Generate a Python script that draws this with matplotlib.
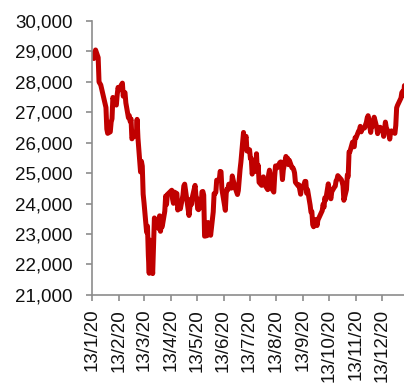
import numpy as np
import pandas as pd
import matplotlib
matplotlib.use("Agg")
import matplotlib.pyplot as plt
import matplotlib.dates as mdates
from matplotlib.ticker import FuncFormatter

plt.rcParams['font.family'] = ['Liberation Sans', 'DejaVu Sans']

# values (approximate daily closes)
dates = ["2020-01-13", "2020-01-14", "2020-01-15", "2020-01-16", "2020-01-17", "2020-01-20",
         "2020-01-21", "2020-01-22", "2020-01-23", "2020-01-29", "2020-01-30", "2020-01-31",
         "2020-02-03", "2020-02-04", "2020-02-05", "2020-02-06", "2020-02-07", "2020-02-10",
         "2020-02-11", "2020-02-12", "2020-02-13", "2020-02-14", "2020-02-17", "2020-02-18",
         "2020-02-19", "2020-02-20", "2020-02-21", "2020-02-24", "2020-02-25", "2020-02-26",
         "2020-02-27", "2020-02-28", "2020-03-02", "2020-03-03", "2020-03-04", "2020-03-05",
         "2020-03-06", "2020-03-09", "2020-03-10", "2020-03-11", "2020-03-12", "2020-03-13",
         "2020-03-16", "2020-03-17", "2020-03-18", "2020-03-19", "2020-03-20", "2020-03-23",
         "2020-03-24", "2020-03-25", "2020-03-26", "2020-03-27", "2020-03-30", "2020-03-31",
         "2020-04-01", "2020-04-02", "2020-04-03", "2020-04-06", "2020-04-07", "2020-04-08",
         "2020-04-09", "2020-04-14", "2020-04-15", "2020-04-16", "2020-04-17", "2020-04-20",
         "2020-04-21", "2020-04-22", "2020-04-23", "2020-04-24", "2020-04-27", "2020-04-28",
         "2020-04-29", "2020-05-04", "2020-05-05", "2020-05-06", "2020-05-07", "2020-05-08",
         "2020-05-11", "2020-05-12", "2020-05-13", "2020-05-14", "2020-05-15", "2020-05-18",
         "2020-05-19", "2020-05-20", "2020-05-21", "2020-05-22", "2020-05-25", "2020-05-26",
         "2020-05-27", "2020-05-28", "2020-05-29", "2020-06-01", "2020-06-02", "2020-06-03",
         "2020-06-04", "2020-06-05", "2020-06-08", "2020-06-09", "2020-06-10", "2020-06-11",
         "2020-06-12", "2020-06-15", "2020-06-16", "2020-06-17", "2020-06-18", "2020-06-19",
         "2020-06-22", "2020-06-23", "2020-06-24", "2020-06-26", "2020-06-29", "2020-06-30",
         "2020-07-02", "2020-07-03", "2020-07-06", "2020-07-07", "2020-07-08", "2020-07-09",
         "2020-07-10", "2020-07-13", "2020-07-14", "2020-07-15", "2020-07-16", "2020-07-17",
         "2020-07-20", "2020-07-21", "2020-07-22", "2020-07-23", "2020-07-24", "2020-07-27",
         "2020-07-28", "2020-07-29", "2020-07-30", "2020-07-31", "2020-08-03", "2020-08-04",
         "2020-08-05", "2020-08-06", "2020-08-07", "2020-08-10", "2020-08-11", "2020-08-12",
         "2020-08-13", "2020-08-14", "2020-08-17", "2020-08-18", "2020-08-19", "2020-08-20",
         "2020-08-21", "2020-08-24", "2020-08-25", "2020-08-26", "2020-08-27", "2020-08-28",
         "2020-08-31", "2020-09-01", "2020-09-02", "2020-09-03", "2020-09-04", "2020-09-07",
         "2020-09-08", "2020-09-09", "2020-09-10", "2020-09-11", "2020-09-14", "2020-09-15",
         "2020-09-16", "2020-09-17", "2020-09-18", "2020-09-21", "2020-09-22", "2020-09-23",
         "2020-09-24", "2020-09-25", "2020-09-28", "2020-09-29", "2020-09-30", "2020-10-05",
         "2020-10-06", "2020-10-07", "2020-10-08", "2020-10-09", "2020-10-12", "2020-10-14",
         "2020-10-15", "2020-10-16", "2020-10-19", "2020-10-20", "2020-10-21", "2020-10-22",
         "2020-10-23", "2020-10-27", "2020-10-28", "2020-10-29", "2020-10-30", "2020-11-02",
         "2020-11-03", "2020-11-04", "2020-11-05", "2020-11-06", "2020-11-09", "2020-11-10",
         "2020-11-11", "2020-11-12", "2020-11-13", "2020-11-16", "2020-11-17", "2020-11-18",
         "2020-11-19", "2020-11-20", "2020-11-23", "2020-11-24", "2020-11-25", "2020-11-26",
         "2020-11-27", "2020-11-30", "2020-12-01", "2020-12-02", "2020-12-03", "2020-12-04",
         "2020-12-07", "2020-12-08", "2020-12-09", "2020-12-10", "2020-12-11", "2020-12-14",
         "2020-12-15", "2020-12-16", "2020-12-17", "2020-12-18", "2020-12-21", "2020-12-22",
         "2020-12-23", "2020-12-24", "2020-12-28", "2020-12-29", "2020-12-30", "2020-12-31",
         "2021-01-04", "2021-01-05", "2021-01-06", "2021-01-07", "2021-01-08"]
values = [28950, 28885, 28770, 28880, 29050, 28800,
          28000, 27950, 27900, 27160, 26450, 26310,
          26360, 26680, 26790, 27490, 27400, 27240,
          27580, 27820, 27730, 27810, 27960, 27530,
          27660, 27650, 27310, 26820, 26890, 26700,
          26780, 26130, 26290, 26280, 26220, 26770,
          26150, 25040, 25390, 25230, 24310, 24030,
          23060, 23260, 22290, 21710, 22800, 21700,
          22660, 23530, 23350, 23480, 23180, 23600,
          23090, 23280, 23240, 23750, 24250, 23970,
          24300, 24440, 24150, 24010, 24380, 24330,
          23790, 23890, 24050, 23830, 24280, 24580,
          24640, 23610, 23870, 24140, 23980, 24230,
          24600, 24250, 24180, 23830, 23800, 23930,
          24390, 24400, 24280, 22930, 22950, 23380,
          23300, 23130, 22960, 23730, 24330, 24330,
          24370, 24770, 24780, 25060, 25050, 24480,
          24300, 23780, 24340, 24480, 24460, 24640,
          24510, 24910, 24780, 24550, 24300, 24430,
          25120, 25370, 26340, 25980, 26130, 26210,
          25730, 25770, 25480, 25480, 24970, 25090,
          25060, 25640, 25060, 25260, 24700, 24600,
          24770, 24880, 24710, 24600, 24460, 24950,
          25100, 24930, 24530, 24380, 24890, 25240,
          25230, 25180, 25350, 25370, 25180, 24790,
          25110, 25550, 25490, 25490, 25280, 25420,
          25180, 25180, 25120, 25010, 24700, 24590,
          24620, 24470, 24310, 24500, 24640, 24730,
          24730, 24340, 24460, 23950, 23720, 23740,
          23310, 23240, 23480, 23280, 23460, 23770,
          23980, 23880, 24190, 24120, 24650, 24240,
          24160, 24390, 24540, 24570, 24750, 24790,
          24920, 24790, 24710, 24590, 24110, 24460,
          24940, 24890, 25700, 25710, 26020, 25870,
          25870, 26170, 26160, 26380, 26420, 26540,
          26360, 26450, 26490, 26590, 26670, 26820,
          26890, 26340, 26570, 26530, 26730, 26840,
          26510, 26300, 26500, 26410, 26510, 26390,
          26210, 26460, 26680, 26500, 26310, 26120,
          26340, 26390, 26310, 26570, 27150, 27230,
          27470, 27650, 27690, 27550, 27880]

tick_dates = ["2020-01-13", "2020-02-13", "2020-03-13", "2020-04-13", "2020-05-13", "2020-06-13",
              "2020-07-13", "2020-08-13", "2020-09-13", "2020-10-13", "2020-11-13", "2020-12-13"]
tick_labels = ["13/1/20", "13/2/20", "13/3/20", "13/4/20", "13/5/20", "13/6/20",
               "13/7/20", "13/8/20", "13/9/20", "13/10/20", "13/11/20", "13/12/20"]
y_ticks = [21000, 22000, 23000, 24000, 25000, 26000, 27000, 28000, 29000, 30000]

x = pd.to_datetime(dates)

fig = plt.figure(figsize=(4.04, 3.83), dpi=100)
ax = fig.add_axes([0.228, 0.230, 0.772, 0.715])
ax.plot(x, values, color="#C00000", lw=3.6, solid_joinstyle="round", solid_capstyle="round")

ax.set_ylim(21000, 30000)
ax.set_yticks(y_ticks)
ax.yaxis.set_major_formatter(FuncFormatter(lambda v, p: f"{int(v):,}"))
ax.set_xlim(pd.Timestamp("2020-01-13"), pd.Timestamp("2021-01-07 12:00"))
ax.set_xticks(pd.to_datetime(tick_dates))
ax.set_xticklabels(tick_labels, rotation=90)

for s in ["top", "right"]:
    ax.spines[s].set_visible(False)
for s in ["left", "bottom"]:
    ax.spines[s].set_color("#8c8c8c")
    ax.spines[s].set_linewidth(1.2)
ax.tick_params(axis="y", colors="#8c8c8c", labelcolor="#111111", labelsize=13.5,
               length=4, width=1.2, pad=10)
ax.tick_params(axis="x", colors="#8c8c8c", labelcolor="#111111", labelsize=13.5,
               length=4, width=1.2, pad=6)

fig.savefig("out.png", dpi=100)
